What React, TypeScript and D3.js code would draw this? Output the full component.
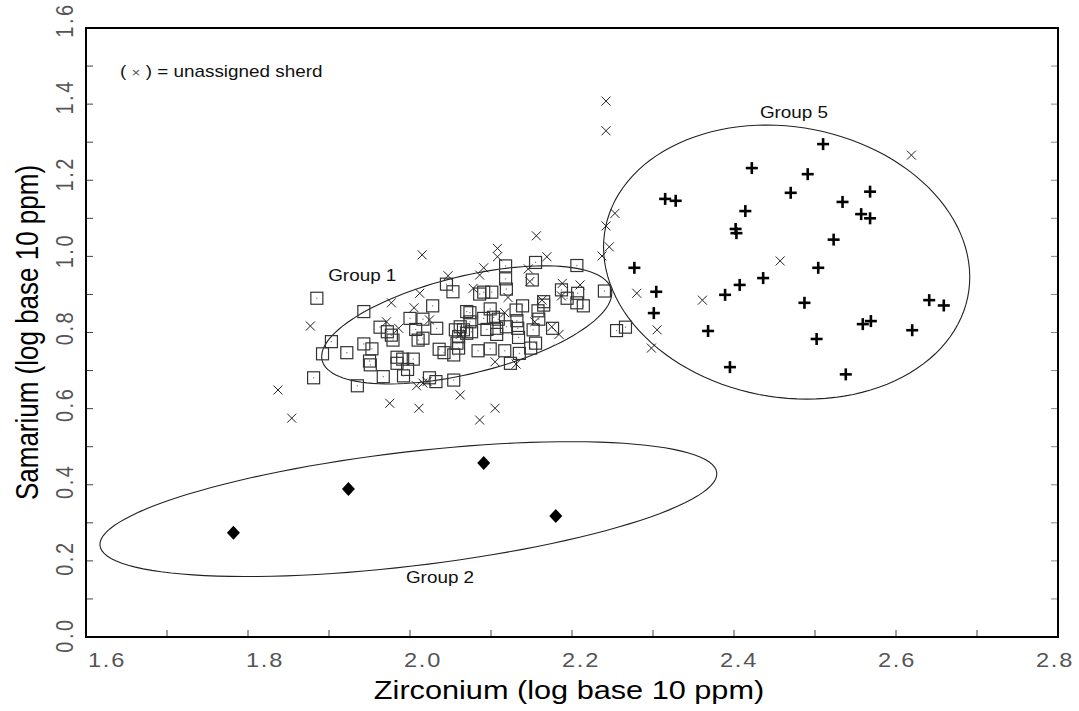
import React from "react";
import * as d3 from "d3";

// ---------- data ----------
const xTickValues = [1.6, 1.7, 1.8, 1.9, 2.0, 2.1, 2.2, 2.3, 2.4, 2.5, 2.6, 2.7, 2.8];
const xLabelValues = [1.6, 1.8, 2.0, 2.2, 2.4, 2.6, 2.8];
const yTickValues = [0.0, 0.1, 0.2, 0.3, 0.4, 0.5, 0.6, 0.7, 0.8, 0.9, 1.0, 1.1, 1.2, 1.3, 1.4, 1.5, 1.6];
const yLabelValues = [0.0, 0.2, 0.4, 0.6, 0.8, 1.0, 1.2, 1.4, 1.6];

// Group 1 (squares)
const group1Zr = [
  1.885, 1.943, 2.028, 2.045, 2.053, 2.000, 2.016, 1.963, 1.972, 1.977, 1.979, 2.007, 2.010, 2.016, 2.033,
  1.903, 1.892, 1.922, 1.943, 1.953, 1.950, 1.951, 1.967, 1.984, 1.991, 2.004, 1.984, 1.997, 1.992, 1.881,
  1.935, 2.024, 2.032, 2.054, 2.036, 2.042, 2.155, 2.118, 2.206, 2.118, 2.151, 2.119, 2.086, 2.091, 2.101,
  2.187, 2.194, 2.207, 2.214, 2.206, 2.240, 2.139, 2.131, 2.165, 2.165, 2.158, 2.074, 2.099, 2.091, 2.103,
  2.109, 2.132, 2.159, 2.152, 2.176, 2.133, 2.134, 2.119, 2.107, 2.095, 2.107, 2.155, 2.149, 2.099, 2.084,
  2.117, 2.135, 2.124, 2.062, 2.056, 2.060, 2.058, 2.060, 2.054, 2.074, 2.076, 2.070, 2.255, 2.266, 2.070,
  2.066,
];
const group1Sm = [
  0.890, 0.855, 0.870, 0.927, 0.907, 0.837, 0.835, 0.814, 0.802, 0.793, 0.780, 0.808, 0.780, 0.785, 0.811,
  0.776, 0.744, 0.747, 0.770, 0.757, 0.725, 0.715, 0.684, 0.735, 0.730, 0.730, 0.719, 0.703, 0.686, 0.681,
  0.660, 0.681, 0.671, 0.675, 0.756, 0.747, 0.984, 0.975, 0.976, 0.941, 0.938, 0.914, 0.901, 0.906, 0.906,
  0.912, 0.890, 0.903, 0.870, 0.878, 0.909, 0.870, 0.859, 0.881, 0.872, 0.857, 0.852, 0.862, 0.837, 0.840,
  0.835, 0.831, 0.835, 0.807, 0.811, 0.811, 0.787, 0.815, 0.811, 0.808, 0.795, 0.772, 0.759, 0.757, 0.752,
  0.752, 0.745, 0.719, 0.815, 0.807, 0.789, 0.772, 0.759, 0.741, 0.828, 0.802, 0.798, 0.805, 0.814, 0.855,
  0.807,
];

// Group 2 (diamonds)
const group2Zr = [1.782, 1.924, 2.091, 2.180];
const group2Sm = [0.274, 0.389, 0.457, 0.318];

// Group 5 (plus)
const group5Zr = [
  2.510, 2.422, 2.491, 2.470, 2.568, 2.534, 2.414, 2.557, 2.568, 2.402, 2.403, 2.523, 2.504, 2.436, 2.407, 2.389,
  2.487, 2.641, 2.659, 2.368, 2.559, 2.569, 2.620, 2.502, 2.395, 2.538, 2.315, 2.328, 2.277, 2.304, 2.301,
];
const group5Sm = [
  1.295, 1.232, 1.216, 1.167, 1.170, 1.143, 1.119, 1.111, 1.100, 1.072, 1.061, 1.044, 0.970, 0.943, 0.925, 0.899,
  0.878, 0.885, 0.871, 0.804, 0.822, 0.830, 0.806, 0.783, 0.709, 0.690, 1.151, 1.146, 0.970, 0.907, 0.851,
];

// Unassigned sherds (x)
const unassignedZr = [
  2.015, 2.047, 1.877, 1.977, 2.005, 1.971, 1.986, 2.024, 2.012, 1.837, 1.854, 1.975, 2.011, 2.062, 2.008, 2.016,
  2.021, 2.062, 2.156, 2.108, 2.108, 2.169, 2.091, 2.086, 2.146, 2.148, 2.078, 2.121, 2.188, 2.210, 2.187, 2.163,
  2.117, 2.154, 2.175, 2.184, 2.105, 2.131, 2.105, 2.086, 2.237, 2.246, 2.280, 2.242, 2.242, 2.253, 2.242, 2.305,
  2.298, 2.361, 2.457, 2.619,
];
const unassignedSm = [
  1.004, 0.949, 0.817, 0.878, 0.865, 0.828, 0.811, 0.833, 0.903, 0.649, 0.575, 0.614, 0.601, 0.636, 0.660, 0.667,
  0.671, 0.795, 1.054, 1.021, 0.999, 0.999, 0.970, 0.951, 0.967, 0.934, 0.916, 0.892, 0.929, 0.925, 0.896, 0.885,
  0.852, 0.828, 0.815, 0.795, 0.723, 0.717, 0.601, 0.570, 1.001, 1.025, 0.903, 1.408, 1.330, 1.113, 1.080, 0.807,
  0.759, 0.885, 0.988, 1.266,
];

// Group confidence ellipses: centre + two conjugate semi-axis vectors (data units)
const ellipseNames = ["Group 1", "Group 2", "Group 5"];
const ellipseCx = [2.070, 1.998, 2.465];
const ellipseCy = [0.820, 0.336, 0.985];
const ellipseAx = [0.179, 0.380, 0.2247];
const ellipseAy = [0.0867, 0.1025, 0.0];
const ellipseBx = [-0.005, -0.0247, -0.0247];
const ellipseBy = [0.1287, 0.1445, 0.360];
const ellipseLabelZr = [1.899, 1.995, 2.432];
const ellipseLabelSm = [0.935, 0.142, 1.364];

// ---------- layout ----------
const W = 1079;
const H = 711;
const L = 86, R = 1058, T = 28, B = 637;
const SX = 1.18; // horizontal stretch of the original rendering's text

const x = d3.scaleLinear().domain([1.6, 2.8]).range([L, R]);
const y = d3.scaleLinear().domain([0, 1.6]).range([B, T]);

const sans = "'Liberation Sans', Arial, Helvetica, sans-serif";

export default function App() {
  const line = d3.line<[number, number]>().x(d => x(d[0])).y(d => y(d[1])).curve(d3.curveLinearClosed);
  const ellipses = ellipseNames.map((name, i) => {
    const pts: [number, number][] = d3.range(0, 120).map(k => {
      const t = (k / 120) * Math.PI * 2;
      return [
        ellipseCx[i] + ellipseAx[i] * Math.cos(t) + ellipseBx[i] * Math.sin(t),
        ellipseCy[i] + ellipseAy[i] * Math.cos(t) + ellipseBy[i] * Math.sin(t),
      ];
    });
    return { name, d: line(pts) as string };
  });

  const sq = 6;
  const xs = 4.5;
  const ps = 6;

  return (
    <svg width={W} height={H} style={{ position: "absolute", left: 0, top: 0, background: "#fff" }}>
      <rect x={0} y={0} width={W} height={H} fill="#fff" />
      {/* ticks */}
      {xTickValues.map(v => (
        <line key={"xt" + v} x1={x(v)} x2={x(v)} y1={B} y2={B - 7} stroke="#444" strokeWidth={1} />
      ))}
      {yTickValues.map(v => (
        <g key={"yt" + v}>
          <line x1={L} x2={L + 7} y1={y(v)} y2={y(v)} stroke="#444" strokeWidth={1} />
          <line x1={R} x2={R - 7} y1={y(v)} y2={y(v)} stroke="#888" strokeWidth={1} />
        </g>
      ))}
      {/* ellipses */}
      {ellipses.map(e => (
        <path key={e.name} d={e.d} fill="none" stroke="#222" strokeWidth={1.1} />
      ))}
      {/* group 1 squares */}
      {group1Zr.map((v, i) => (
        <g key={"s" + i} transform={`translate(${x(v)},${y(group1Sm[i])})`}>
          <rect x={-sq} y={-sq} width={sq * 2} height={sq * 2} fill="none" stroke="#333" strokeWidth={1.2} />
          <rect x={-0.6} y={-0.6} width={1.2} height={1.2} fill="#777" />
        </g>
      ))}
      {/* unassigned */}
      {unassignedZr.map((v, i) => (
        <g key={"x" + i} transform={`translate(${x(v)},${y(unassignedSm[i])})`} stroke="#222" strokeWidth={1}>
          <line x1={-xs} y1={-xs} x2={xs} y2={xs} />
          <line x1={-xs} y1={xs} x2={xs} y2={-xs} />
        </g>
      ))}
      {/* group 5 plus */}
      {group5Zr.map((v, i) => (
        <g key={"p" + i} transform={`translate(${x(v)},${y(group5Sm[i])})`} stroke="#000" strokeWidth={2.6}>
          <line x1={-ps} y1={0} x2={ps} y2={0} />
          <line x1={0} y1={-ps} x2={0} y2={ps} />
        </g>
      ))}
      {/* group 2 diamonds */}
      {group2Zr.map((v, i) => (
        <path key={"d" + i} transform={`translate(${x(v)},${y(group2Sm[i])})`} d="M0,-7L6.5,0L0,7L-6.5,0Z" fill="#000" />
      ))}
      {/* group labels */}
      {ellipseNames.map((n, i) => (
        <text key={"gl" + n} transform={`translate(${x(ellipseLabelZr[i])},${y(ellipseLabelSm[i])}) scale(${SX},1)`}
          fontFamily={sans} fontSize={16} fill="#111">
          {n}
        </text>
      ))}
      {/* legend */}
      <text transform={`translate(120,77) scale(${SX},1)`} fontFamily={sans} fontSize={16} fill="#111">
        {"( "}
        <tspan fill="#555" fontSize={13}>×</tspan>
        {" ) = unassigned sherd"}
      </text>
      {/* frame */}
      <rect x={L} y={T} width={R - L} height={B - T} fill="none" stroke="#000" strokeWidth={2} />
      {/* tick labels */}
      {xLabelValues.map(v => {
        const off = 21 - (24 * (v - 1.6)) / 1.2;
        return (
          <text key={"xl" + v} transform={`translate(${x(v) + off},667) scale(${SX},1)`} textAnchor="middle"
            fontFamily={sans} fontSize={20} fill="#555" letterSpacing={1.5}>
            {v.toFixed(1)}
          </text>
        );
      })}
      {yLabelValues.map(v => {
        const off = -2 - (6 * v) / 1.6;
        const cy = y(v) + off;
        return (
          <text key={"yl" + v} transform={`translate(73,${cy}) scale(${SX},1) rotate(-90)`} textAnchor="middle"
            fontFamily={sans} fontSize={20} fill="#555" letterSpacing={2.5}>
            {v.toFixed(1)}
          </text>
        );
      })}
      {/* axis titles */}
      <text transform={`translate(${(L + R) / 2 - 3},699) scale(${SX},1)`} textAnchor="middle" fontFamily={sans}
        fontSize={26} fill="#000">
        Zirconium (log base 10 ppm)
      </text>
      <text transform={`translate(38,${(T + B) / 2}) scale(${SX},1) rotate(-90)`} textAnchor="middle"
        fontFamily={sans} fontSize={26} fill="#000">
        Samarium (log base 10 ppm)
      </text>
    </svg>
  );
}
